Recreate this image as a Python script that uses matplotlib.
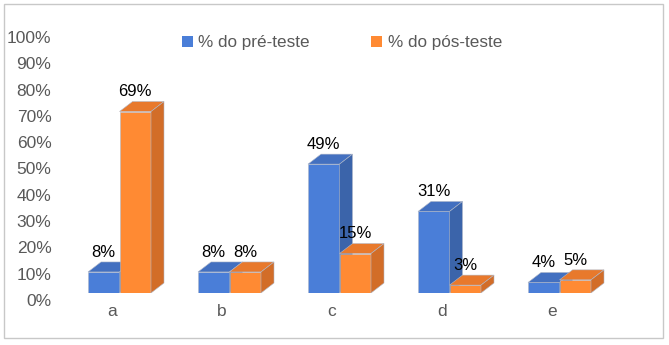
import matplotlib
matplotlib.use('Agg')
import matplotlib.pyplot as plt
import matplotlib.transforms as mtransforms
from matplotlib.patches import Polygon, Rectangle, Patch

plt.rcParams['font.family'] = ['Liberation Sans', 'DejaVu Sans']

# Données
categories = ['a', 'b', 'c', 'd', 'e']
pre_teste = [8, 8, 49, 31, 4]
pos_teste = [69, 8, 15, 3, 5]
yticks = list(range(0, 101, 10))

# couleurs (face avant, dessus, côté)
bleu = ('#4a7ed8', '#4370c0', '#3b64aa')
orange = ('#ff8a33', '#e8792c', '#d26d28')
gris = '#595959'

W, H = 669, 345
fig = plt.figure(figsize=(W / 100, H / 100), dpi=100)

# axe : 0 à y=293 px, 100 à y=30 px ; catégorie a centrée à x=112 px, pas de 110 px
ax = fig.add_axes([57 / W, 52 / H, 550 / W, 263 / H])
ax.set_xlim(-0.5, len(categories) - 0.5)
ax.set_ylim(0, 100)

largeur = 31.5 / 110
decal = 7.5 / 110
dx = 13 / 110          # profondeur en unités x
dy = 10 / 2.63         # profondeur en unités y


def barre_3d(x0, h, couleurs):
    x1 = x0 + largeur
    avant, dessus, cote = couleurs
    ax.add_patch(Rectangle((x0, 0), largeur, h, facecolor=avant,
                           edgecolor='#b0b8c8', linewidth=0.4))
    ax.add_patch(Polygon([(x0, h), (x1, h), (x1 + dx, h + dy), (x0 + dx, h + dy)],
                         closed=True, facecolor=dessus, edgecolor='#b0b8c8', linewidth=0.4))
    ax.add_patch(Polygon([(x1, 0), (x1, h), (x1 + dx, h + dy), (x1 + dx, dy)],
                         closed=True, facecolor=cote, edgecolor='#b0b8c8', linewidth=0.4))
    ax.annotate(f'{h}%', (x0 + largeur / 2, h + dy), xytext=(0, 1.5),
                textcoords='offset points', ha='center', va='bottom',
                fontsize=12, color='black')


for i in range(len(categories)):
    barre_3d(i - largeur + decal, pre_teste[i], bleu)
    barre_3d(i + decal, pos_teste[i], orange)

ax.set_xticks(range(len(categories)))
ax.set_xticklabels(categories)
ax.set_yticks(yticks)
ax.set_yticklabels([f'{t}%' for t in yticks])
ax.tick_params(axis='both', length=0, colors=gris, labelsize=12.5)
ax.tick_params(axis='x', pad=8)
ax.tick_params(axis='y', pad=4)
# les étiquettes de l'axe y sont légèrement décalées vers le bas
decalage = mtransforms.ScaledTranslation(0, -7 / 100, fig.dpi_scale_trans)
for lab in ax.get_yticklabels():
    lab.set_transform(lab.get_transform() + decalage)
for s in ax.spines.values():
    s.set_visible(False)
ax.patch.set_visible(False)

poignees = [Patch(facecolor=bleu[0]), Patch(facecolor=orange[0])]
fig.legend(poignees, ['% do pré-teste', '% do pós-teste'], ncol=2,
           loc='center', bbox_to_anchor=(342 / W, 1 - 43 / H), frameon=False,
           fontsize=12.3, labelcolor=gris, handlelength=0.65, handleheight=0.65,
           handletextpad=0.3, columnspacing=3.6)

# cadre autour du graphique
fig.add_artist(Rectangle((4 / W, 7 / H), 659 / W, 334 / H, transform=fig.transFigure,
                         fill=False, edgecolor='#c8c8c8', linewidth=1))

fig.savefig('out.png', dpi=100)
